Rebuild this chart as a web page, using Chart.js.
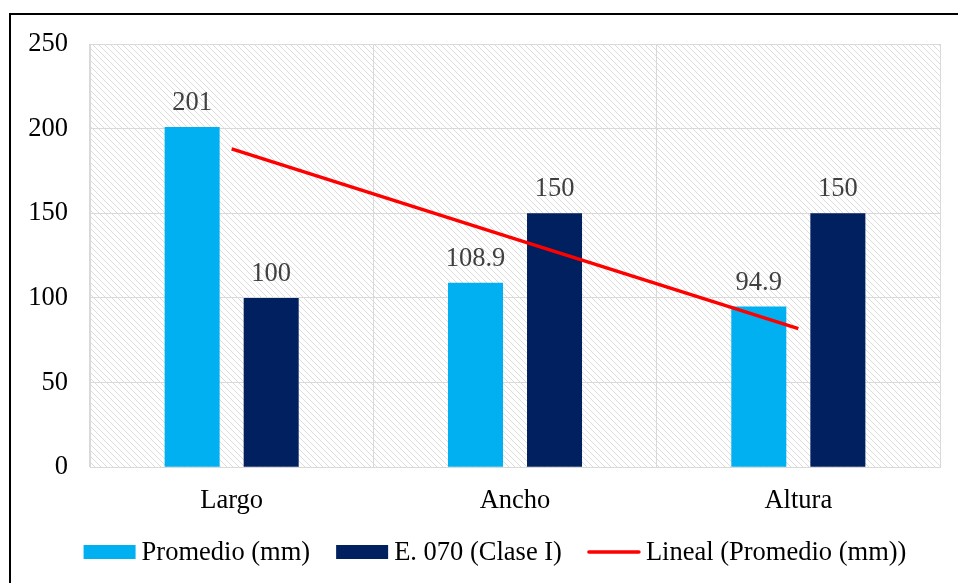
<!DOCTYPE html>
<html>
<head>
<meta charset="utf-8">
<script src="https://cdn.jsdelivr.net/npm/chart.js@4.4.1/dist/chart.umd.min.js"></script>
<style>
html,body{margin:0;padding:0;background:#fff;overflow:hidden;}
#wrap{position:absolute;left:0;top:0;width:958px;height:583px;}
#frame{position:absolute;left:9px;top:13px;width:1000px;height:700px;border-left:2px solid #000;border-top:2px solid #000;box-sizing:border-box;pointer-events:none;}
canvas{position:absolute;left:0;top:0;}
</style>
</head>
<body>
<div id="wrap">
<canvas id="c" width="958" height="583"></canvas>
<div id="frame"></div>
</div>
<script>
const categories = ['Largo', 'Ancho', 'Altura'];
const promedio = [201, 108.9, 94.9];
const norma = [100, 150, 150];
const tendencia = [188.0, 134.9, 81.9];
const seriesNames = ['Promedio (mm)', 'E. 070 (Clase I)', 'Lineal (Promedio (mm))'];
const yTicks = [0, 50, 100, 150, 200, 250];

const FONT = "'Liberation Serif', 'Times New Roman', serif";
const FS = 26.5;

function makePattern(ctx) {
  const t = document.createElement('canvas');
  t.width = 6; t.height = 6;
  const g = t.getContext('2d');
  g.fillStyle = '#ffffff';
  g.fillRect(0, 0, 6, 6);
  for (let i = 0; i < 6; i++) {
    g.fillStyle = '#dcdcdc';
    g.fillRect(i, i, 1, 1);
  }
  return ctx.createPattern(t, 'repeat');
}

const bgPlugin = {
  id: 'hatchBg',
  beforeDraw(chart) {
    const { ctx, chartArea: a } = chart;
    ctx.save();
    ctx.fillStyle = makePattern(ctx);
    ctx.fillRect(a.left, a.top, a.right - a.left, a.bottom - a.top);
    ctx.restore();
  }
};

const labelPlugin = {
  id: 'valueLabels',
  afterDatasetsDraw(chart) {
    const { ctx } = chart;
    ctx.save();
    ctx.font = FS + 'px ' + FONT;
    ctx.fillStyle = '#404040';
    ctx.textAlign = 'center';
    ctx.textBaseline = 'alphabetic';
    [0, 1].forEach(di => {
      const meta = chart.getDatasetMeta(di);
      meta.data.forEach((el, i) => {
        const v = chart.data.datasets[di].data[i];
        ctx.fillText(String(v), el.x, el.y - 17);
      });
    });
    ctx.restore();
  }
};

const legendPlugin = {
  id: 'customLegend',
  afterDraw(chart) {
    const { ctx } = chart;
    const ds = chart.data.datasets;
    ctx.save();
    ctx.font = FS + 'px ' + FONT;
    const boxW = 52, gapText = 6, gapItem = 26;
    const widths = ds.map(d => boxW + gapText + ctx.measureText(d.label).width);
    const total = widths.reduce((a, b) => a + b, 0) + gapItem * (ds.length - 1);
    let x = (chart.width - total) / 2 + 16;
    const cy = 552;
    ds.forEach((d, i) => {
      if (d.type === 'line') {
        ctx.strokeStyle = d.borderColor;
        ctx.lineWidth = 3.5;
        ctx.lineCap = 'round';
        ctx.beginPath();
        ctx.moveTo(x + 1, cy);
        ctx.lineTo(x + boxW - 1, cy);
        ctx.stroke();
      } else {
        ctx.fillStyle = d.backgroundColor;
        ctx.fillRect(x, cy - 7, boxW, 14);
      }
      ctx.fillStyle = '#000';
      ctx.textAlign = 'left';
      ctx.textBaseline = 'middle';
      ctx.fillText(d.label, x + boxW + gapText, cy + 1);
      x += widths[i] + gapItem;
    });
    ctx.restore();
  }
};

new Chart(document.getElementById('c'), {
  data: {
    labels: categories,
    datasets: [
      { type: 'bar', label: seriesNames[0], data: promedio, backgroundColor: '#00B0F0', categoryPercentage: 0.558, barPercentage: 0.696, order: 2 },
      { type: 'bar', label: seriesNames[1], data: norma, backgroundColor: '#002060', categoryPercentage: 0.558, barPercentage: 0.696, order: 2 },
      { type: 'line', label: seriesNames[2], data: tendencia, borderColor: '#FF0000', backgroundColor: '#FF0000', borderWidth: 3.5, pointRadius: 0, tension: 0, order: 1 }
    ]
  },
  options: {
    responsive: false,
    animation: false,
    devicePixelRatio: 1,
    layout: { padding: { left: 0, right: 18, top: 44, bottom: 48 } },
    plugins: {
      tooltip: { enabled: false },
      legend: { display: false }
    },
    scales: {
      x: {
        offset: true,
        grid: { offset: true, color: '#d9d9d9', lineWidth: 1, drawTicks: false },
        border: { color: '#d9d9d9' },
        ticks: { font: { family: FONT, size: FS }, color: '#000', padding: 18 }
      },
      y: {
        min: 0, max: 250,
        afterBuildTicks(scale) { scale.ticks = yTicks.map(v => ({ value: v })); },
        afterFit(scale) { scale.width = 90; },
        grid: { color: '#d9d9d9', lineWidth: 1, drawTicks: false },
        border: { color: '#d9d9d9' },
        ticks: { font: { family: FONT, size: FS }, color: '#000', padding: 22 }
      }
    }
  },
  plugins: [bgPlugin, labelPlugin, legendPlugin]
});
</script>
</body>
</html>
